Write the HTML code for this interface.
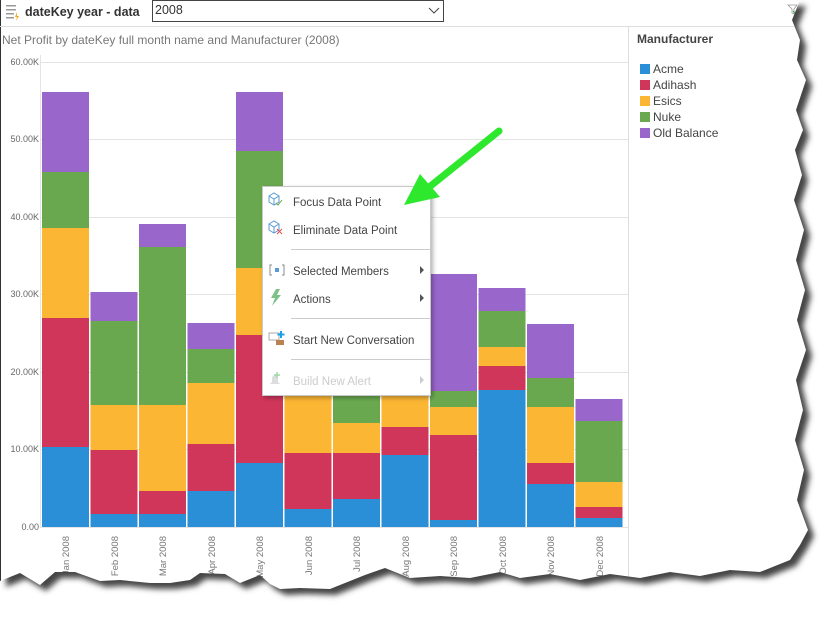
<!DOCTYPE html>
<html><head><meta charset="utf-8"><style>
body{margin:0;background:#fff;width:828px;height:612px;overflow:hidden;font-family:"Liberation Sans",sans-serif}
</style></head><body>
<svg width="828" height="612" xmlns="http://www.w3.org/2000/svg" font-family="Liberation Sans, sans-serif">
<defs>
<filter id="b" x="-10%" y="-10%" width="120%" height="120%"><feGaussianBlur stdDeviation="3"/></filter>
<filter id="ms" x="-10%" y="-10%" width="130%" height="130%"><feDropShadow dx="2" dy="2" stdDeviation="2" flood-opacity="0.3"/></filter>
<clipPath id="torn"><path d="M0,0 L800,0 L792,20 L800,40 L797,60 L806,80 L796,110 L803,130 L795,150 L802,175 L794,200 L804,230 L796,260 L805,290 L797,320 L806,350 L796,380 L803,410 L795,440 L804,470 L797,500 L808,530 L800,545 L790,560 L760,572 L730,570 L700,576 L670,572 L640,578 L610,574 L580,580 L550,574 L520,578 L500,572 L470,578 L440,576 L410,578 L385,568 L365,575 L330,589 L300,588 L280,589 L270,584 L260,575 L240,583 L225,574 L200,573 L190,580 L170,583 L150,583 L120,580 L100,581 L75,572 L55,572 L40,585 L20,573 L0,581 Z"/></clipPath>
</defs>
<path d="M0,0 L800,0 L792,20 L800,40 L797,60 L806,80 L796,110 L803,130 L795,150 L802,175 L794,200 L804,230 L796,260 L805,290 L797,320 L806,350 L796,380 L803,410 L795,440 L804,470 L797,500 L808,530 L800,545 L790,560 L760,572 L730,570 L700,576 L670,572 L640,578 L610,574 L580,580 L550,574 L520,578 L500,572 L470,578 L440,576 L410,578 L385,568 L365,575 L330,589 L300,588 L280,589 L270,584 L260,575 L240,583 L225,574 L200,573 L190,580 L170,583 L150,583 L120,580 L100,581 L75,572 L55,572 L40,585 L20,573 L0,581 Z" transform="translate(6,6)" fill="#444" filter="url(#b)"/>
<g clip-path="url(#torn)">
<rect width="828" height="612" fill="#fff"/>
<line x1="0.5" y1="0" x2="0.5" y2="600" stroke="#333"/>
<g fill="#999"><rect x="6" y="5" width="10" height="1.5"/><rect x="6" y="9" width="10" height="1.5"/><rect x="6" y="13" width="8" height="1.5"/><rect x="6" y="17" width="8" height="1.5"/></g>
<path d="M17,12 l-2,5 h2 l-1,4 3,-5 h-2z" fill="#f5a623"/>
<text x="25" y="16" font-size="12.5" font-weight="bold" fill="#333">dateKey year - data</text>
<rect x="152.5" y="0.5" width="291" height="21" fill="#fff" stroke="#444"/>
<text x="155" y="14" font-size="12.5" fill="#333">2008</text>
<path d="M429,8 l5,5 5,-5" fill="none" stroke="#444"/>
<line x1="0" y1="26.5" x2="800" y2="26.5" stroke="#ddd"/>
<path d="M788,5 l9,0 -3,4 0,5 -2,-1 0,-4z" fill="none" stroke="#999" stroke-width="0.8"/>
<path d="M793,11 l2,2 3,-4" fill="none" stroke="#3a3" stroke-width="1"/>
<text x="2" y="44" font-size="12" fill="#777">Net Profit by dateKey full month name and Manufacturer (2008)</text>
<line x1="628.5" y1="27" x2="628.5" y2="600" stroke="#ddd"/>
<g stroke="#e4e4e4"><line x1="40" y1="62.5" x2="628" y2="62.5"/><line x1="40" y1="139.5" x2="628" y2="139.5"/><line x1="40" y1="217.5" x2="628" y2="217.5"/><line x1="40" y1="294.5" x2="628" y2="294.5"/><line x1="40" y1="372.5" x2="628" y2="372.5"/><line x1="40" y1="449.5" x2="628" y2="449.5"/><line x1="40.5" y1="55" x2="40.5" y2="528"/><line x1="40" y1="527.5" x2="628" y2="527.5"/></g>
<g font-size="9" fill="#666" text-anchor="end"><text x="39" y="65">60.00K</text><text x="39" y="142">50.00K</text><text x="39" y="220">40.00K</text><text x="39" y="297">30.00K</text><text x="39" y="375">20.00K</text><text x="39" y="452">10.00K</text><text x="39" y="530">0.00</text></g>
<g>
<rect x="42" y="447" width="47" height="80" fill="#2a8fd6"/><rect x="42" y="318" width="47" height="129" fill="#d0365a"/><rect x="42" y="228" width="47" height="90" fill="#fbb634"/><rect x="42" y="172" width="47" height="56" fill="#6aa84f"/><rect x="42" y="92" width="47" height="80" fill="#9966cc"/>
<rect x="90.5" y="514" width="47" height="13" fill="#2a8fd6"/><rect x="90.5" y="450" width="47" height="64" fill="#d0365a"/><rect x="90.5" y="405" width="47" height="45" fill="#fbb634"/><rect x="90.5" y="321" width="47" height="84" fill="#6aa84f"/><rect x="90.5" y="292" width="47" height="29" fill="#9966cc"/>
<rect x="139" y="514" width="47" height="13" fill="#2a8fd6"/><rect x="139" y="491" width="47" height="23" fill="#d0365a"/><rect x="139" y="405" width="47" height="86" fill="#fbb634"/><rect x="139" y="247" width="47" height="158" fill="#6aa84f"/><rect x="139" y="224" width="47" height="23" fill="#9966cc"/>
<rect x="187.5" y="491" width="47" height="36" fill="#2a8fd6"/><rect x="187.5" y="444" width="47" height="47" fill="#d0365a"/><rect x="187.5" y="383" width="47" height="61" fill="#fbb634"/><rect x="187.5" y="349" width="47" height="34" fill="#6aa84f"/><rect x="187.5" y="323" width="47" height="26" fill="#9966cc"/>
<rect x="236" y="463" width="47" height="64" fill="#2a8fd6"/><rect x="236" y="335" width="47" height="128" fill="#d0365a"/><rect x="236" y="268" width="47" height="67" fill="#fbb634"/><rect x="236" y="151" width="47" height="117" fill="#6aa84f"/><rect x="236" y="92" width="47" height="59" fill="#9966cc"/>
<rect x="284.5" y="509" width="47" height="18" fill="#2a8fd6"/><rect x="284.5" y="453" width="47" height="56" fill="#d0365a"/><rect x="284.5" y="391" width="47" height="62" fill="#fbb634"/><rect x="284.5" y="360" width="47" height="31" fill="#6aa84f"/><rect x="284.5" y="330" width="47" height="30" fill="#9966cc"/>
<rect x="333" y="499" width="47" height="28" fill="#2a8fd6"/><rect x="333" y="453" width="47" height="46" fill="#d0365a"/><rect x="333" y="423" width="47" height="30" fill="#fbb634"/><rect x="333" y="380" width="47" height="43" fill="#6aa84f"/><rect x="333" y="350" width="47" height="30" fill="#9966cc"/>
<rect x="381.5" y="455" width="47" height="72" fill="#2a8fd6"/><rect x="381.5" y="427" width="47" height="28" fill="#d0365a"/><rect x="381.5" y="395" width="47" height="32" fill="#fbb634"/><rect x="381.5" y="360" width="47" height="35" fill="#6aa84f"/><rect x="381.5" y="320" width="47" height="40" fill="#9966cc"/>
<rect x="430" y="520" width="47" height="7" fill="#2a8fd6"/><rect x="430" y="435" width="47" height="85" fill="#d0365a"/><rect x="430" y="407" width="47" height="28" fill="#fbb634"/><rect x="430" y="391" width="47" height="16" fill="#6aa84f"/><rect x="430" y="274" width="47" height="117" fill="#9966cc"/>
<rect x="478.5" y="390" width="47" height="137" fill="#2a8fd6"/><rect x="478.5" y="366" width="47" height="24" fill="#d0365a"/><rect x="478.5" y="347" width="47" height="19" fill="#fbb634"/><rect x="478.5" y="311" width="47" height="36" fill="#6aa84f"/><rect x="478.5" y="288" width="47" height="23" fill="#9966cc"/>
<rect x="527" y="484" width="47" height="43" fill="#2a8fd6"/><rect x="527" y="463" width="47" height="21" fill="#d0365a"/><rect x="527" y="407" width="47" height="56" fill="#fbb634"/><rect x="527" y="378" width="47" height="29" fill="#6aa84f"/><rect x="527" y="324" width="47" height="54" fill="#9966cc"/>
<rect x="575.5" y="518" width="47" height="9" fill="#2a8fd6"/><rect x="575.5" y="507" width="47" height="11" fill="#d0365a"/><rect x="575.5" y="482" width="47" height="25" fill="#fbb634"/><rect x="575.5" y="421" width="47" height="61" fill="#6aa84f"/><rect x="575.5" y="399" width="47" height="22" fill="#9966cc"/>
</g>
<g font-size="9.5" fill="#777" text-anchor="end">
<text transform="translate(69,536) rotate(-90)">Jan 2008</text><text transform="translate(118,536) rotate(-90)">Feb 2008</text><text transform="translate(166,536) rotate(-90)">Mar 2008</text><text transform="translate(215,536) rotate(-90)">Apr 2008</text><text transform="translate(263,536) rotate(-90)">May 2008</text><text transform="translate(312,536) rotate(-90)">Jun 2008</text><text transform="translate(360,536) rotate(-90)">Jul 2008</text><text transform="translate(409,536) rotate(-90)">Aug 2008</text><text transform="translate(457,536) rotate(-90)">Sep 2008</text><text transform="translate(506,536) rotate(-90)">Oct 2008</text><text transform="translate(554,536) rotate(-90)">Nov 2008</text><text transform="translate(603,536) rotate(-90)">Dec 2008</text>
</g>
<text x="637" y="43" font-size="12" font-weight="bold" fill="#444">Manufacturer</text>
<g font-size="12" fill="#444">
<rect x="640" y="64" width="10" height="10" fill="#2a8fd6"/><text x="653" y="73">Acme</text>
<rect x="640" y="80" width="10" height="10" fill="#d0365a"/><text x="653" y="89">Adihash</text>
<rect x="640" y="96" width="10" height="10" fill="#fbb634"/><text x="653" y="105">Esics</text>
<rect x="640" y="112" width="10" height="10" fill="#6aa84f"/><text x="653" y="121">Nuke</text>
<rect x="640" y="128" width="10" height="10" fill="#9966cc"/><text x="653" y="137">Old Balance</text>
</g>
<rect x="262.5" y="186.5" width="168" height="209" fill="#fff" stroke="#c8c8c8" filter="url(#ms)"/>
<g font-size="11.5" fill="#444">
<path d="M269,196 l5,-3 5,3 0,6 -5,3 -5,-3z M269,196 l5,3 5,-3 M274,199 v6" fill="none" stroke="#5b9bd5"/><path d="M276,203 l2,2 4,-5" fill="none" stroke="#6aa84f"/>
<text x="293" y="206">Focus Data Point</text>
<path d="M269,224 l5,-3 5,3 0,6 -5,3 -5,-3z M269,224 l5,3 5,-3 M274,227 v6" fill="none" stroke="#5b9bd5"/><path d="M277,229 l5,5 M282,229 l-5,5" stroke="#e05050"/>
<text x="293" y="234">Eliminate Data Point</text>
<line x1="291" y1="249.5" x2="430" y2="249.5" stroke="#ccc"/>
<path d="M272,265 h-2 v10 h2 M282,265 h2 v10 h-2" fill="none" stroke="#888"/><rect x="275" y="268" width="4" height="4" fill="#5b9bd5"/>
<text x="293" y="275">Selected Members</text><path d="M420,266 l4,4 -4,4z" fill="#555"/>
<path d="M276,289 l-5,9 h4 l-3,8 9,-11 h-4 l3,-6z" fill="#7cc08a"/>
<text x="293" y="303">Actions</text><path d="M420,294 l4,4 -4,4z" fill="#555"/>
<line x1="291" y1="318.5" x2="430" y2="318.5" stroke="#ccc"/>
<rect x="269" y="333" width="10" height="7" fill="none" stroke="#aaa"/><rect x="276" y="340" width="8" height="5" fill="#b98250"/><path d="M281,331 v7 M277.5,334.5 h7" stroke="#1aa0e6" stroke-width="2"/>
<text x="293" y="344">Start New Conversation</text>
<line x1="291" y1="359.5" x2="430" y2="359.5" stroke="#ccc"/>
<path d="M270,384 h10 l-2,-2 v-4 a3,3 0 0 0 -6,0 v4z" fill="#ddd"/><path d="M277,372 v6 M274,375 h6" stroke="#9fd9a8" stroke-width="1.5"/>
<text x="293" y="385" fill="#ccc">Build New Alert</text><path d="M420,376 l4,4 -4,4z" fill="#ccc"/>
</g>
<path d="M499,131 L428,188" stroke="#2ee82e" stroke-width="7" stroke-linecap="round"/>
<path d="M404,205 L420,174 L440,197 Z" fill="#2ee82e"/>
</g>
</svg>
</body></html>
